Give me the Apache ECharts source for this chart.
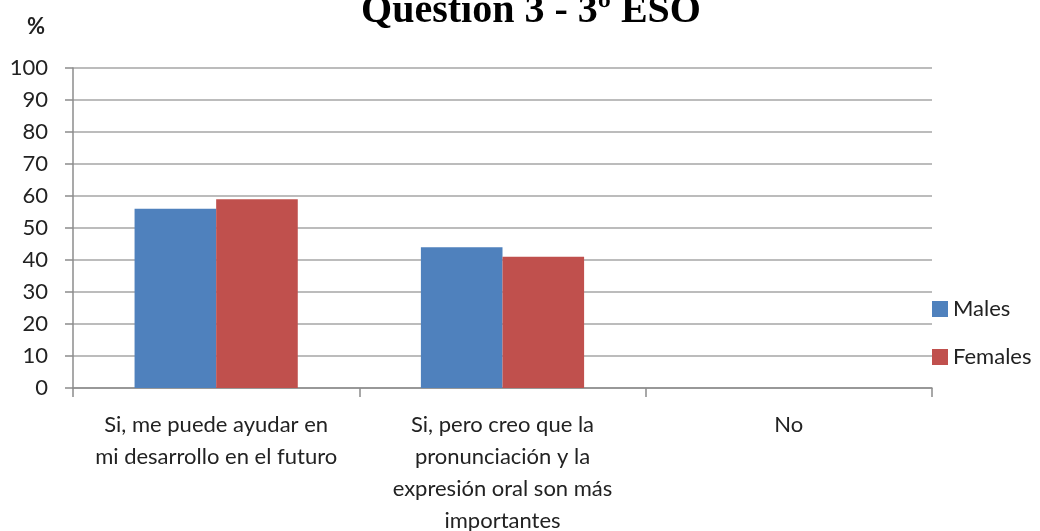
<!DOCTYPE html>
<html>
<head>
<meta charset="utf-8">
<script src="https://cdn.jsdelivr.net/npm/echarts@6/dist/echarts.min.js"></script>
<style>
    html, body { margin: 0; padding: 0; background: #fff; }
    #chart { width: 1040px; height: 531px; }
</style>
</head>
<body>
<div id="chart"></div>
<script>
const categories = [
    'Si, me puede ayudar en\nmi desarrollo en el futuro',
    'Si, pero creo que la\npronunciación y la\nexpresión oral son más\nimportantes',
    'No',
]
const males = [56, 44, 0]
const females = [59, 41, 0]

const font = 'Lato, "Open Sans", sans-serif'
const axisGrey = '#8c8c8c'

const option = {
    animation: false,
    title: {
        text: 'Question 3 - 3º ESO',
        left: 526,
        textAlign: 'center',
        top: -13,
        textStyle: {
            fontFamily: '"Liberation Serif", serif',
            fontSize: 40,
            fontWeight: 'bold',
            color: '#000',
        },
    },
    legend: {
        orient: 'vertical',
        left: 927,
        top: 293,
        itemWidth: 16,
        itemHeight: 16,
        itemGap: 26,
        icon: 'rect',
        textStyle: { fontFamily: font, fontSize: 22, color: '#222' },
        data: ['Males', 'Females'],
    },
    grid: { left: 73, right: 108, top: 68, bottom: 143, outerBoundsMode: 'none', containLabel: false },
    xAxis: {
        type: 'category',
        data: categories,
        axisLine: { lineStyle: { color: axisGrey, width: 1.5 } },
        axisTick: { show: true, length: 9, lineStyle: { color: axisGrey, width: 1.5 } },
        axisLabel: {
            fontFamily: font,
            fontSize: 22,
            color: '#222',
            lineHeight: 32,
            margin: 21,
            interval: 0,
        },
    },
    yAxis: {
        type: 'value',
        min: 0,
        max: 100,
        interval: 10,
        name: '%',
        nameLocation: 'end',
        nameGap: 30,
        nameTextStyle: { fontFamily: font, fontSize: 22, fontWeight: 'bold', color: '#222', align: 'right', padding: [0, 28, 0, 0] },
        axisLine: { show: true, lineStyle: { color: axisGrey, width: 1.5 } },
        axisTick: { show: true, length: 8, lineStyle: { color: axisGrey, width: 1.5 } },
        axisLabel: { fontFamily: font, fontSize: 22, color: '#222', margin: 25 },
        splitLine: { lineStyle: { color: '#a6a6a6', width: 1.5 } },
    },
    series: [
        {
            name: 'Males',
            type: 'bar',
            data: males,
            barWidth: '28.5%',
            barGap: '0%',
            itemStyle: { color: '#4f81bd' },
        },
        {
            name: 'Females',
            type: 'bar',
            data: females,
            barWidth: '28.5%',
            itemStyle: { color: '#c0504d' },
        },
    ],
}

let chart = echarts.init(document.getElementById('chart'))
chart.setOption(option)
</script>
</body>
</html>
